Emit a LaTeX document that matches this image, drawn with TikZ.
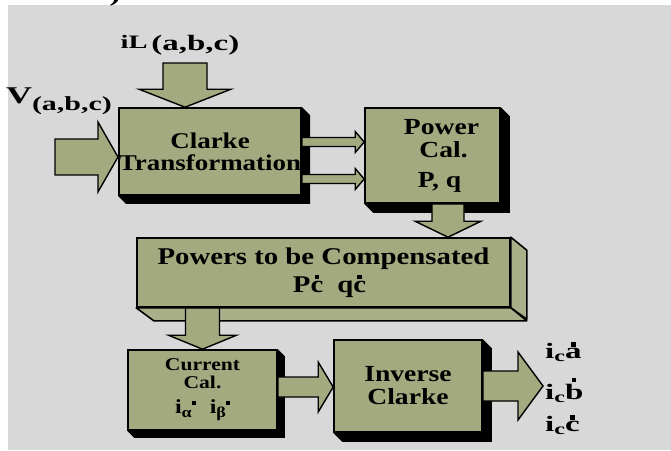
\documentclass[tikz,border=0pt]{standalone}
\usepackage{fontspec}
\usepackage{xcolor}
\usepackage{tikz}
\usetikzlibrary{calc}
\newfontfamily\boxfont[FakeStretch=1.2]{Liberation Serif}
\newfontfamily\sigfont[FakeStretch=1.5]{Liberation Serif}
\definecolor{CBG}{HTML}{D8D8D8}
\definecolor{COlive}{HTML}{A3AA80}
\definecolor{CSide}{HTML}{A9AF88}

% square dot set above a letter
\newsavebox\dotbox
\newcommand{\topdot}[1]{\sbox\dotbox{#1}\rlap{\makebox[\wd\dotbox]{\raisebox{\dimexpr\ht\dotbox+1.5pt\relax}{\rule{4.5pt}{4.5pt}}}}\usebox\dotbox}

% black drop shadow on the right and bottom of a box
\newcommand{\boxshadow}[2]{%
  \fill[black] (#1.north east) -- ++(#2,-#2) -- ($(#1.south east)+(#2,-#2)$)
    -- ($(#1.south west)+(#2,-#2)$) -- (#1.south west) -- (#1.south east) -- cycle;}

% wide arrow: from, to, half shaft, half head, head length
\newcommand{\blockarrow}[5]{%
  \coordinate (ba-s) at (#1);
  \coordinate (ba-e) at (#2);
  \coordinate (ba-h) at ($(ba-e)!#5!(ba-s)$);
  \draw[flowarrow] ($(ba-s)!#3!90:(ba-e)$) -- ($(ba-h)!#3!90:(ba-e)$) -- ($(ba-h)!#4!90:(ba-e)$)
    -- (ba-e) -- ($(ba-h)!#4!-90:(ba-e)$) -- ($(ba-h)!#3!-90:(ba-e)$) -- ($(ba-s)!#3!-90:(ba-e)$) -- cycle;}

\begin{document}
\begin{tikzpicture}[x=1pt,y=1pt,
  blockbox/.style={draw, line width=1.6pt, fill=COlive, inner sep=0pt, align=center, font=\boxfont\bfseries\fontsize{23}{23}\selectfont},
  flowarrow/.style={draw, line width=1.4pt, fill=COlive, line join=miter},
  sideface/.style={draw, line width=1.6pt, fill=CSide, line join=round},
  signal/.style={inner sep=0pt, font=\sigfont\bfseries\fontsize{22}{22}\selectfont}]

\fill[white] (0pt,0pt) rectangle (671pt,-450pt);
\fill[CBG] (8pt,-5pt) rectangle (671pt,-450pt);
\useasboundingbox (0pt,0pt) rectangle (671pt,-450pt);

\node (clarke) [blockbox, minimum width=180pt, minimum height=87pt, at={(210pt,-151.5pt)}, font=\boxfont\bfseries\fontsize{22.5}{22}\selectfont] {Clarke\\Transformation};
\node (powercal) [blockbox, minimum width=135pt, minimum height=95pt, at={(432.5pt,-155.5pt)}] {\hspace*{18pt}Power\\\hspace*{22pt}Cal.\\[7pt]\hspace*{14pt}P, q};
\node (powers) [blockbox, minimum width=373pt, minimum height=69pt, at={(323.5pt,-272.5pt)}, font=\boxfont\bfseries\fontsize{24}{28}\selectfont] {Powers to be Compensated\\\hspace*{12pt}P\topdot{c}\hspace{14pt}q\topdot{c}};
\node (curcal) [blockbox, minimum width=149pt, minimum height=80pt, at={(202.5pt,-390pt)}, font=\boxfont\bfseries\fontsize{18}{18}\selectfont] {Current\\Cal.\\[7pt]{\fontsize{20}{20}\selectfont i}\raisebox{-4pt}{\fontsize{15}{15}\selectfont α}\raisebox{9pt}{\rule{4pt}{4pt}}\hspace{14pt}{\fontsize{20}{20}\selectfont i}\raisebox{-4pt}{\fontsize{15}{15}\selectfont β}\raisebox{9pt}{\rule{4pt}{4pt}}};
\node (invclarke) [blockbox, minimum width=148pt, minimum height=92pt, at={(408pt,-386pt)}] {Inverse\\Clarke};

\boxshadow{clarke}{8pt}
\boxshadow{powercal}{9pt}
\boxshadow{curcal}{7pt}
\boxshadow{invclarke}{9pt}
\path[sideface] (powers.north east) -- ++(16pt,-13pt) -- ++(0pt,-69pt) -- (powers.south east) -- cycle;
\path[sideface] (powers.south west) -- (powers.south east) -- ++(16pt,-13pt) -- ++(-373pt,0pt) -- cycle;

\node (cutparen) [signal, anchor=base, at={(115pt,-1pt)}] {)};
\node (iLlabel) [signal, at={(180pt,-45pt)}] {{\fontsize{19}{19}\selectfont iL}\,\raisebox{-2pt}{(a,b,c)}};
\node (Vlabel) [signal, at={(59pt,-101pt)}] {{\fontsize{24}{24}\selectfont V}\raisebox{-7pt}{\fontsize{20}{20}\selectfont(a,b,c)}};
\node (ica) [signal, anchor=west, at={(545pt,-352pt)}] {i\raisebox{-3pt}{\fontsize{16}{16}\selectfont c}\topdot{a}};
\node (icb) [signal, anchor=west, at={(545pt,-390pt)}] {i\raisebox{-3pt}{\fontsize{16}{16}\selectfont c}\topdot{b}};
\node (icc) [signal, anchor=west, at={(545pt,-425pt)}] {i\raisebox{-3pt}{\fontsize{16}{16}\selectfont c}\topdot{c}};

\coordinate (iLtail) at (185pt,-63pt);
\coordinate (Vtail) at (55pt,-157pt);
\coordinate (pflow) at (0pt,-142pt);
\coordinate (qflow) at (0pt,-179pt);
\coordinate (pcflow) at (448pt,0pt);
\coordinate (ciflow) at (0pt,-387pt);
\coordinate (outtip) at (543pt,-386pt);

\blockarrow{iLtail}{clarke.north -| iLtail}{22pt}{46pt}{18pt}
\blockarrow{Vtail}{clarke.west |- Vtail}{18pt}{35pt}{20pt}
\blockarrow{clarke.east |- pflow}{powercal.west |- pflow}{4.5pt}{10.5pt}{9pt}
\blockarrow{clarke.east |- qflow}{powercal.west |- qflow}{4.5pt}{10.5pt}{9pt}
\blockarrow{powercal.south -| pcflow}{powers.north -| pcflow}{16pt}{33pt}{16pt}
\blockarrow{powers.south -| curcal.north}{curcal.north}{17pt}{34pt}{14pt}
\blockarrow{curcal.east |- ciflow}{invclarke.west |- ciflow}{10pt}{25pt}{15pt}
\blockarrow{invclarke.east}{outtip}{15pt}{34pt}{25pt}
\end{tikzpicture}
\end{document}
